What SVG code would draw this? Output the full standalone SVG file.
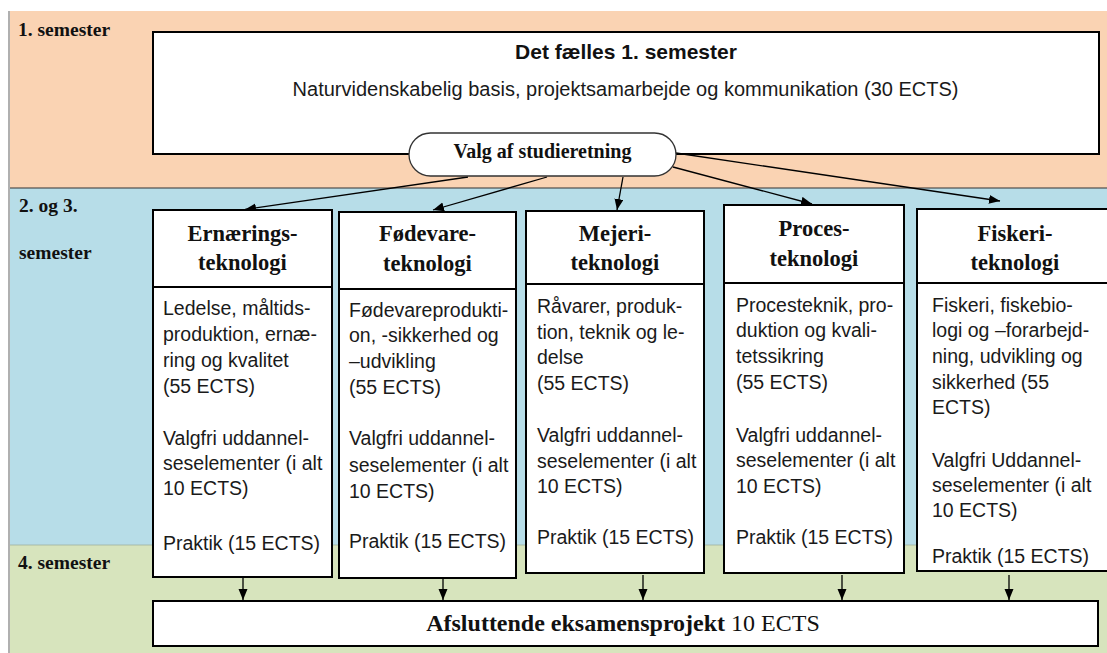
<svg xmlns="http://www.w3.org/2000/svg" width="1107" height="653" viewBox="0 0 1107 653">
<style>
.band-label{font-family:"Liberation Serif","Times New Roman",serif;font-weight:bold;font-size:19.5px;fill:#111}
.box{fill:#fff;stroke:#000;stroke-width:2}
.hdr{font-family:"Liberation Serif","Times New Roman",serif;font-weight:bold;font-size:22.5px;fill:#111;text-anchor:middle}
.body{font-family:"Liberation Sans",Arial,sans-serif;font-size:19.5px;fill:#1a1a1a}
.conn{stroke:#000;stroke-width:1.3;fill:none;marker-end:url(#arr)}
</style>
<defs>
<marker id="arr" markerUnits="userSpaceOnUse" markerWidth="12" markerHeight="10" refX="11" refY="4.5" orient="auto">
<path d="M0,0 L11,4.5 L0,9 z" fill="#000"/>
</marker>
</defs>
<rect x="0" y="0" width="1107" height="653" fill="#fff"/>
<g id="bands">
<rect x="10" y="11" width="1097" height="177" fill="#FAD3B3"/>
<rect x="10" y="188" width="1097" height="357" fill="#B7DDE8"/>
<rect x="10" y="545" width="1097" height="108" fill="#D7E4BD"/>
<line x1="10" y1="188" x2="1107" y2="188" stroke="#333" stroke-width="1.2"/>
<line x1="10" y1="545" x2="1107" y2="545" stroke="#9fb0a0" stroke-width="0.8"/>
<rect x="8" y="11" width="2" height="642" fill="#b0b0b0"/>
<text class="band-label" x="18" y="36">1. semester</text>
<text class="band-label" x="19" y="212">2. og 3.</text>
<text class="band-label" x="19" y="259">semester</text>
<text class="band-label" x="18" y="569">4. semester</text>
</g>
<g id="semester1">
<rect class="box" x="153" y="32" width="946" height="122"/>
<text x="626" y="59" text-anchor="middle" font-family="Liberation Sans, Arial, sans-serif" font-weight="bold" font-size="21" fill="#111">Det fælles 1. semester</text>
<text x="625.5" y="96" text-anchor="middle" font-family="Liberation Sans, Arial, sans-serif" font-size="20" fill="#1a1a1a">Naturvidenskabelig basis, projektsamarbejde og kommunikation (30 ECTS)</text>
</g>
<g id="connectors">
<line class="conn" x1="468" y1="177" x2="245" y2="209.5"/>
<line class="conn" x1="547" y1="177" x2="433" y2="210"/>
<line class="conn" x1="623" y1="177" x2="617" y2="210"/>
<line class="conn" x1="673" y1="167" x2="812" y2="204"/>
<line class="conn" x1="676" y1="153" x2="1000" y2="201"/>
<line class="conn" x1="243" y1="578" x2="243" y2="600"/>
<line class="conn" x1="443" y1="579" x2="443" y2="600"/>
<line class="conn" x1="643" y1="575" x2="643" y2="600"/>
<line class="conn" x1="842" y1="575" x2="842" y2="600"/>
<line class="conn" x1="1009" y1="575" x2="1009" y2="600"/>
</g>
<g id="valg">
<rect x="409" y="133" width="267" height="43" rx="21.5" ry="21.5" fill="#fff" stroke="#333" stroke-width="1.3"/>
<text x="542.5" y="158" text-anchor="middle" font-family="Liberation Serif, Times New Roman, serif" font-weight="bold" font-size="20" fill="#111">Valg af studieretning</text>
</g>
<g id="ernaering">
<rect class="box" x="153" y="210" width="179" height="367"/>
<line x1="153" y1="287" x2="332" y2="287" stroke="#000" stroke-width="2"/>
<text class="hdr" x="242.5" y="241">Ernærings-</text>
<text class="hdr" x="242.5" y="270">teknologi</text>
<text class="body" x="163" y="315">Ledelse, måltids-</text>
<text class="body" x="163" y="341">produktion, ernæ-</text>
<text class="body" x="163" y="367">ring og kvalitet</text>
<text class="body" x="163" y="393">(55 ECTS)</text>
<text class="body" x="163" y="445">Valgfri uddannel-</text>
<text class="body" x="163" y="470">seselementer (i alt</text>
<text class="body" x="163" y="495">10 ECTS)</text>
<text class="body" x="163" y="550">Praktik (15 ECTS)</text>
</g>
<g id="foedevare">
<rect class="box" x="339" y="212" width="177" height="366"/>
<line x1="339" y1="289" x2="516" y2="289" stroke="#000" stroke-width="2"/>
<text class="hdr" x="427.5" y="241">Fødevare-</text>
<text class="hdr" x="427.5" y="271">teknologi</text>
<text class="body" x="349" y="317">Fødevareprodukti-</text>
<text class="body" x="349" y="342">on, -sikkerhed og</text>
<text class="body" x="349" y="368">–udvikling</text>
<text class="body" x="349" y="394">(55 ECTS)</text>
<text class="body" x="349" y="445">Valgfri uddannel-</text>
<text class="body" x="349" y="472">seselementer (i alt</text>
<text class="body" x="349" y="498">10 ECTS)</text>
<text class="body" x="349" y="548">Praktik (15 ECTS)</text>
</g>
<g id="mejeri">
<rect class="box" x="526" y="211" width="178" height="362"/>
<line x1="526" y1="284" x2="704" y2="284" stroke="#000" stroke-width="2"/>
<text class="hdr" x="615" y="241">Mejeri-</text>
<text class="hdr" x="615" y="270">teknologi</text>
<text class="body" x="537" y="313">Råvarer, produk-</text>
<text class="body" x="537" y="339">tion, teknik og le-</text>
<text class="body" x="537" y="364">delse</text>
<text class="body" x="537" y="390">(55 ECTS)</text>
<text class="body" x="537" y="442">Valgfri uddannel-</text>
<text class="body" x="537" y="468">seselementer (i alt</text>
<text class="body" x="537" y="493">10 ECTS)</text>
<text class="body" x="537" y="544">Praktik (15 ECTS)</text>
</g>
<g id="proces">
<rect class="box" x="724" y="205" width="180" height="368"/>
<line x1="724" y1="283" x2="904" y2="283" stroke="#000" stroke-width="2"/>
<text class="hdr" x="814" y="236">Proces-</text>
<text class="hdr" x="814" y="266">teknologi</text>
<text class="body" x="736" y="312">Procesteknik, pro-</text>
<text class="body" x="736" y="337">duktion og kvali-</text>
<text class="body" x="736" y="363">tetssikring</text>
<text class="body" x="736" y="389">(55 ECTS)</text>
<text class="body" x="736" y="442">Valgfri uddannel-</text>
<text class="body" x="736" y="467">seselementer (i alt</text>
<text class="body" x="736" y="493">10 ECTS)</text>
<text class="body" x="736" y="544">Praktik (15 ECTS)</text>
</g>
<g id="fiskeri">
<rect class="box" x="917" y="209" width="196" height="362"/>
<line x1="917" y1="283" x2="1107" y2="283" stroke="#000" stroke-width="2"/>
<text class="hdr" x="1015" y="241">Fiskeri-</text>
<text class="hdr" x="1015" y="270">teknologi</text>
<text class="body" x="932" y="312">Fiskeri, fiskebio-</text>
<text class="body" x="932" y="337">logi og –forarbejd-</text>
<text class="body" x="932" y="363">ning, udvikling og</text>
<text class="body" x="932" y="389">sikkerhed (55</text>
<text class="body" x="932" y="414">ECTS)</text>
<text class="body" x="932" y="467">Valgfri Uddannel-</text>
<text class="body" x="932" y="492">seselementer (i alt</text>
<text class="body" x="932" y="517">10 ECTS)</text>
<text class="body" x="932" y="563">Praktik (15 ECTS)</text>
</g>
<g id="afsluttende">
<rect class="box" x="153" y="601" width="945" height="45"/>
<text x="623" y="631" text-anchor="middle" font-family="Liberation Serif, Times New Roman, serif" font-size="24" fill="#111"><tspan font-weight="bold">Afsluttende eksamensprojekt</tspan> 10 ECTS</text>
</g>
</svg>
